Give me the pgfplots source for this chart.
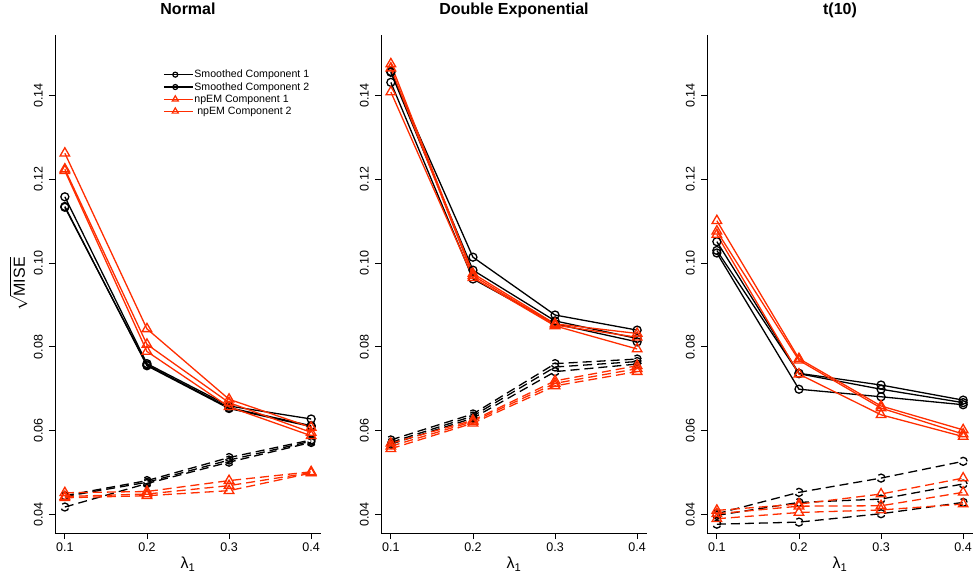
\documentclass[border=0pt]{standalone}
\usepackage{fontspec}
\setmainfont{Liberation Sans}
\usepackage{pgfplots}
\pgfplotsset{compat=1.18}
\usepackage{pgfplotstable}
\definecolor{npred}{RGB}{255,45,0}

% sqrt(MISE) by lambda_1; three replicate lines per method and component
\pgfplotstableread{
x    s1a    s1b    s1c    s2a    s2b    s2c    n1a    n1b    n1c    n2a    n2b    n2c
0.1  0.1158 0.1133 0.1135 0.0445 0.0443 0.0418 0.1262 0.1224 0.1220 0.0452 0.0443 0.0440
0.2  0.0760 0.0757 0.0755 0.0481 0.0477 0.0474 0.0843 0.0806 0.0789 0.0455 0.0449 0.0445
0.3  0.0659 0.0655 0.0653 0.0536 0.0530 0.0525 0.0675 0.0667 0.0657 0.0481 0.0469 0.0457
0.4  0.0628 0.0612 0.0610 0.0578 0.0575 0.0572 0.0608 0.0596 0.0588 0.0502 0.0500 0.0499
}\tabnormal
\pgfplotstableread{
x    s1a    s1b    s1c    s2a    s2b    s2c    n1a    n1b    n1c    n2a    n2b    n2c
0.1  0.1457 0.1455 0.1431 0.0578 0.0572 0.0568 0.1475 0.1465 0.1408 0.0570 0.0563 0.0557
0.2  0.1014 0.0983 0.0962 0.0640 0.0635 0.0630 0.0975 0.0970 0.0965 0.0625 0.0622 0.0618
0.3  0.0876 0.0862 0.0855 0.0760 0.0752 0.0741 0.0855 0.0852 0.0850 0.0719 0.0713 0.0707
0.4  0.0840 0.0820 0.0812 0.0771 0.0765 0.0759 0.0832 0.0823 0.0795 0.0755 0.0748 0.0741
}\tabdexp
\pgfplotstableread{
x    s1a    s1b    s1c    s2a    s2b    s2c    n1a    n1b    n1c    n2a    n2b    n2c
0.1  0.1051 0.1030 0.1024 0.0402 0.0398 0.0377 0.1101 0.1076 0.1068 0.0410 0.0402 0.0390
0.2  0.0737 0.0736 0.0699 0.0453 0.0429 0.0382 0.0772 0.0768 0.0735 0.0425 0.0420 0.0405
0.3  0.0709 0.0699 0.0681 0.0487 0.0437 0.0402 0.0659 0.0654 0.0638 0.0449 0.0421 0.0411
0.4  0.0673 0.0667 0.0662 0.0527 0.0473 0.0429 0.0602 0.0592 0.0586 0.0487 0.0453 0.0425
}\tabtten

\pgfplotsset{
  rpanel/.style={
    scale only axis, width=266pt, height=498pt,
    xmin=0.088, xmax=0.412, ymin=0.0356, ymax=0.1544,
    axis x line*=bottom, axis y line*=left,
    axis line style={line width=0.9pt},
    xtick={0.1,0.2,0.3,0.4},
    ytick={0.04,0.06,0.08,0.10,0.12,0.14},
    tick align=outside, major tick length=6pt,
    tick style={line width=0.9pt, black},
    scaled ticks=false,
    tick label style={font=\fontsize{12.5}{14}\selectfont},
    /pgf/number format/assume math mode=true,
    xticklabel style={/pgf/number format/fixed, /pgf/number format/precision=1, /pgf/number format/fixed zerofill},
    yticklabel style={/pgf/number format/fixed, /pgf/number format/precision=2, /pgf/number format/fixed zerofill, rotate=90, anchor=south, inner sep=6pt},
    title style={font=\bfseries\fontsize{16}{18}\selectfont, at={(0.5,1)}, anchor=base, yshift=15pt},
    xlabel={λ\textsubscript{1}},
    every axis x label/.style={at={(axis description cs:0.5,-0.072)}, anchor=base, font=\fontsize{16}{18}\selectfont},
    clip=false,
  },
  sm1/.style={black, solid, line width=1.3pt, mark=o, mark size=4pt},
  sm2/.style={black, dash pattern=on 9pt off 5pt, line width=1.3pt, mark=o, mark size=4pt},
  np1/.style={npred, solid, line width=1.3pt, mark=triangle, mark size=5.5pt},
  np2/.style={npred, dash pattern=on 9pt off 5pt, line width=1.3pt, mark=triangle, mark size=5.5pt, mark options={solid}},
}

\newcommand{\drawpanel}[1]{%
  \pgfplotsinvokeforeach{a,b,c}{\addplot[sm1, forget plot] table[x=x, y=s1##1]{#1};}
  \pgfplotsinvokeforeach{a,b,c}{\addplot[sm2, forget plot] table[x=x, y=s2##1]{#1};}
  \pgfplotsinvokeforeach{a,b,c}{\addplot[np1, forget plot] table[x=x, y=n1##1]{#1};}
  \pgfplotsinvokeforeach{a,b,c}{\addplot[np2, forget plot] table[x=x, y=n2##1]{#1};}
}

\begin{document}
\begin{tikzpicture}
\path[use as bounding box] (0pt,0pt) rectangle (975pt,-573pt);

\begin{axis}[rpanel, at={(55pt,-533pt)}, anchor=south west,
  title={Normal},
  ylabel={$\sqrt{\mbox{MISE}}$},
  every axis y label/.style={at={(axis description cs:-0.113,0.5)}, rotate=90, anchor=base, inner sep=0pt, font=\fontsize{16}{18}\selectfont},
  legend style={draw=none, fill=none, at={(axis description cs:0.406,0.932)}, anchor=north west,
    font=\fontsize{10.6}{12}\selectfont, inner sep=0pt, row sep=1.2pt,
    nodes={inner sep=1pt}},
  legend cell align=left,
  legend image code/.code={\draw[mark repeat=2, mark phase=2] plot coordinates {(0pt,0pt) (11.5pt,0pt) (23pt,0pt)}; \path (23pt,0pt) -- (29pt,0pt);},
]
\addlegendimage{black, solid, line width=1.2pt, mark=o, mark size=2.5pt}
\addlegendentry{Smoothed Component 1}
\addlegendimage{black, solid, line width=1.2pt, mark=o, mark size=2.5pt}
\addlegendentry{Smoothed Component 2}
\addlegendimage{npred, solid, line width=1.2pt, mark=triangle, mark size=3.5pt}
\addlegendentry{npEM Component 1}
\addlegendimage{npred, solid, line width=1.2pt, mark=triangle, mark size=3.5pt}
\addlegendentry{\ npEM Component 2}
\drawpanel{\tabnormal}
\end{axis}

\begin{axis}[rpanel, at={(381pt,-533pt)}, anchor=south west,
  title={Double Exponential}]
\drawpanel{\tabdexp}
\end{axis}

\begin{axis}[rpanel, at={(707pt,-533pt)}, anchor=south west,
  title={t(10)}]
\drawpanel{\tabtten}
\end{axis}
\end{tikzpicture}
\end{document}
